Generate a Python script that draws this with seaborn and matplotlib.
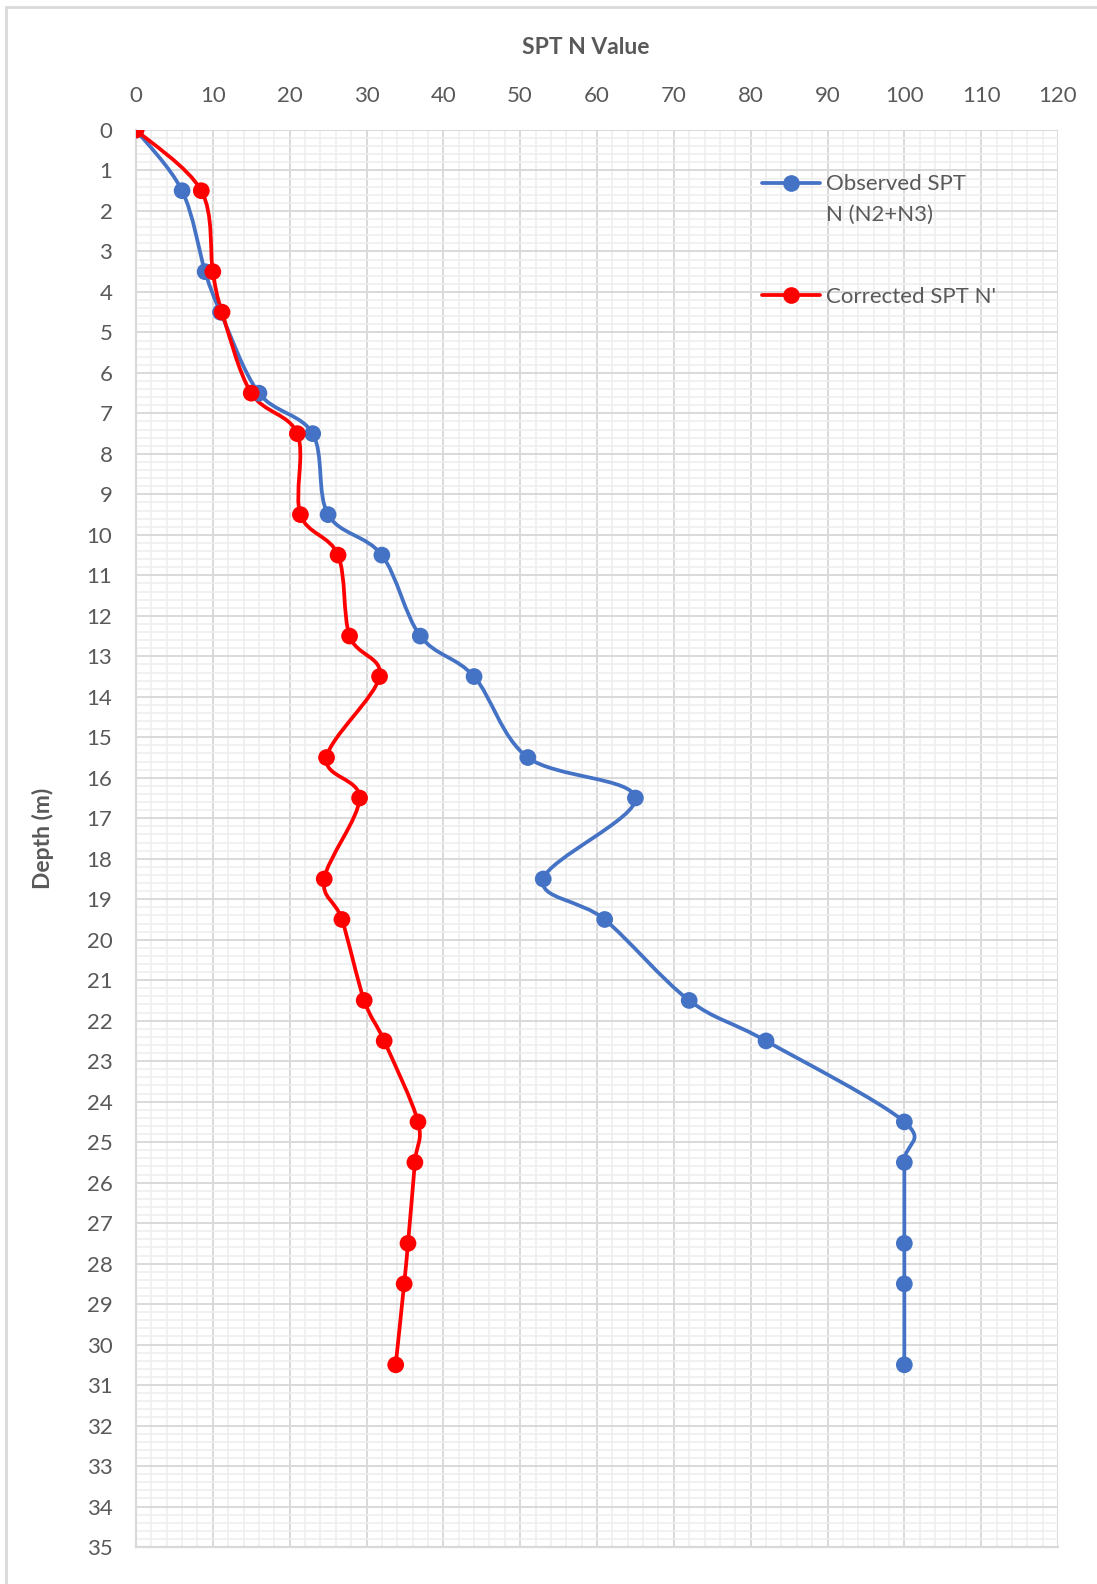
import numpy as np
import matplotlib.pyplot as plt
import seaborn as sns
from matplotlib.path import Path
from matplotlib.patches import PathPatch, Rectangle
from matplotlib.lines import Line2D
from matplotlib.legend_handler import HandlerLine2D
from matplotlib.ticker import MultipleLocator

# depth (m) and SPT values
depth = [0, 1.5, 3.5, 4.5, 6.5, 7.5, 9.5, 10.5, 12.5, 13.5, 15.5, 16.5,
         18.5, 19.5, 21.5, 22.5, 24.5, 25.5, 27.5, 28.5, 30.5]
observed_n = [0, 6, 9, 11, 16, 23, 25, 32, 37, 44, 51, 65,
              53, 61, 72, 82, 100, 100, 100, 100, 100]
corrected_n = [0, 8.5, 10, 11.2, 15, 21, 21.4, 26.3, 27.8, 31.7, 24.8, 29.1,
               24.5, 26.8, 29.7, 32.3, 36.7, 36.3, 35.4, 34.9, 33.8]

label_obs = "Observed SPT\nN (N2+N3)"
label_cor = "Corrected SPT N'"
blue = "#4472C4"
red = "#FF0000"
grey_txt = "#595959"

sns.set_style("white")
plt.rcParams["font.family"] = ["Lato", "DejaVu Sans"]

W, H = 1097, 1584
fig = plt.figure(figsize=(W / 100, H / 100), dpi=100)
ax = fig.add_axes([136 / W, 1 - 1547 / H, (1058 - 136) / W, (1547 - 130) / H])


def smooth_path(xs, ys):
    # excel-like smoothed line: cubic bezier through the points
    pts = np.column_stack([xs, ys]).astype(float)
    n = len(pts)
    verts = [pts[0]]
    codes = [Path.MOVETO]
    for i in range(n - 1):
        p0 = pts[max(i - 1, 0)]
        p1 = pts[i]
        p2 = pts[i + 1]
        p3 = pts[min(i + 2, n - 1)]
        verts += [p1 + (p2 - p0) / 6, p2 - (p3 - p1) / 6, p2]
        codes += [Path.CURVE4] * 3
    return Path(verts, codes)


class HandlerFirstLine(HandlerLine2D):
    # put the handle level with the first text line of a two-line label
    def create_artists(self, legend, orig_handle, xdescent, ydescent,
                       width, height, fontsize, trans):
        return super().create_artists(legend, orig_handle, xdescent,
                                      ydescent - 24.5, width, height,
                                      fontsize, trans)


for vals, col in [(observed_n, blue), (corrected_n, red)]:
    ax.add_patch(PathPatch(smooth_path(vals, depth), fill=False,
                           edgecolor=col, lw=2.7, zorder=3,
                           capstyle="round", joinstyle="round"))
    sns.scatterplot(x=vals, y=depth, color=col, s=145, edgecolor="none",
                    zorder=4, ax=ax, legend=False)

ax.set_xlim(0, 120)
ax.set_ylim(35, 0)
ax.xaxis.tick_top()
ax.xaxis.set_major_locator(MultipleLocator(10))
ax.xaxis.set_minor_locator(MultipleLocator(2))
ax.yaxis.set_major_locator(MultipleLocator(1))
ax.yaxis.set_minor_locator(MultipleLocator(0.2))
ax.grid(which="minor", color="#EEEEEE", lw=1.1)
ax.grid(which="major", color="#D9D9D9", lw=1.4)
ax.set_axisbelow(True)
ax.tick_params(which="both", length=0, labelsize=16, labelcolor=grey_txt)
ax.tick_params(axis="x", pad=17)
ax.tick_params(axis="y", pad=17)
for side in ["top", "right"]:
    ax.spines[side].set_visible(False)
for side in ["left", "bottom"]:
    ax.spines[side].set_color("#D9D9D9")
    ax.spines[side].set_linewidth(1.6)
ax.set_xlabel("")
ax.set_ylabel("")

fig.text(586 / W, 1 - 47 / H, "SPT N Value", ha="center", va="center",
         fontsize=16.5, fontweight="bold", color=grey_txt)
fig.text(43 / W, 1 - 838 / H, "Depth (m)", ha="center", va="center",
         rotation=90, fontsize=16.5, fontweight="bold", color=grey_txt)

h_obs = Line2D([], [], color=blue, lw=2.7, marker="o", markersize=12,
               markeredgecolor="none")
h_cor = Line2D([], [], color=red, lw=2.7, marker="o", markersize=12,
               markeredgecolor="none")
leg = ax.legend([h_obs, h_cor], [label_obs, label_cor], loc="upper left",
                bbox_to_anchor=(762 / W, 1 - 174 / H),
                bbox_transform=fig.transFigure, frameon=False,
                fontsize=16, handlelength=2.6, handletextpad=0.3,
                labelspacing=2.78, borderaxespad=0, borderpad=0,
                handler_map={h_obs: HandlerFirstLine()})
for t in leg.get_texts():
    t.set_color(grey_txt)
    t.set_linespacing(1.7)

# light chart border
fig.patches.append(Rectangle((6 / W, -0.1), 1.2, 1 - 7 / H + 0.1,
                             transform=fig.transFigure, fill=False,
                             edgecolor="#D9D9D9", lw=2))

fig.savefig("out.png", dpi=100)
